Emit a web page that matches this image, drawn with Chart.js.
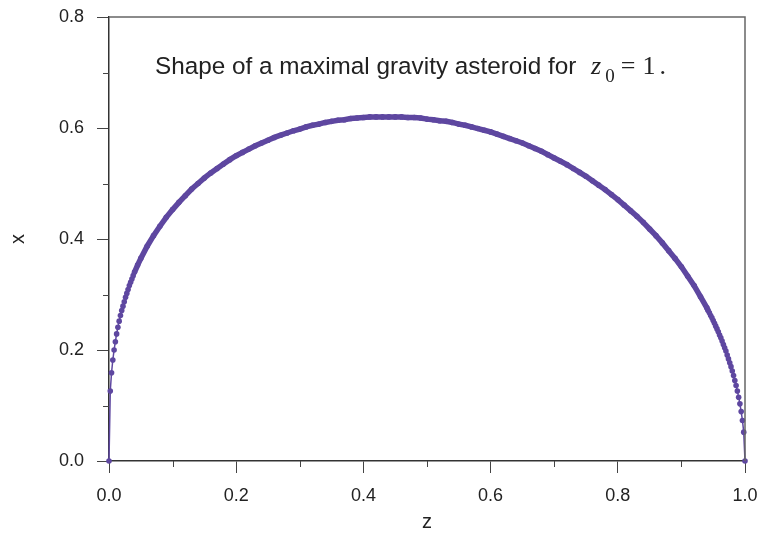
<!DOCTYPE html>
<html lang="en">
<head>
    <meta charset="UTF-8">
    <title>Shape of a maximal gravity asteroid</title>
    <script src="https://cdn.jsdelivr.net/npm/chart.js@4/dist/chart.umd.min.js"></script>
    <style>
        body { margin: 0; background: #fff; }
        #wrap { position: relative; width: 758px; height: 534px; }
        #note {
            position: absolute; left: 155px; top: 54px;
            font-family: 'Liberation Sans', Arial, sans-serif; font-size: 24.3px; line-height: 24px;
            color: #222; white-space: nowrap;
        }
        #note .m { font-family: 'Liberation Serif', 'Times New Roman', serif; font-size: 26px; }
        #note i { margin-left: 8px; }
        #note sub { font-size: 19px; vertical-align: -8px; margin-left: 4px; margin-right: 6px; }
        #note .eq { margin-right: 7px; }
        #note .dot { margin-left: 4px; }
    </style>
</head>
<body>
<div id="wrap">
    <canvas id="chart" width="758" height="534"></canvas>
    <div id="note">Shape of a maximal gravity asteroid for <span class="m"><i>z</i><sub>0</sub><span class="eq">=</span>1<span class="dot">.</span></span></div>
</div>
<script>
// z values (horizontal)
const zValues = [
    0, 0.002, 0.004, 0.006, 0.008, 0.010, 0.012, 0.014, 0.016, 0.018,
    0.020, 0.022, 0.024, 0.026, 0.028, 0.030, 0.032, 0.034, 0.036, 0.038,
    0.040, 0.045, 0.050,
    0.06, 0.07, 0.08, 0.09, 0.10, 0.11, 0.12, 0.13, 0.14, 0.15,
    0.16, 0.17, 0.18, 0.19, 0.20, 0.21, 0.22, 0.23, 0.24, 0.25,
    0.26, 0.27, 0.28, 0.29, 0.30, 0.31, 0.32, 0.33, 0.34, 0.35,
    0.36, 0.37, 0.38, 0.39, 0.40, 0.41, 0.42, 0.43, 0.44, 0.45,
    0.46, 0.47, 0.48, 0.49, 0.50, 0.51, 0.52, 0.53, 0.54, 0.55,
    0.56, 0.57, 0.58, 0.59, 0.60, 0.61, 0.62, 0.63, 0.64, 0.65,
    0.66, 0.67, 0.68, 0.69, 0.70, 0.71, 0.72, 0.73, 0.74, 0.75,
    0.76, 0.77, 0.78, 0.79, 0.80, 0.81, 0.82, 0.83, 0.84, 0.85,
    0.86, 0.87, 0.88, 0.89, 0.90, 0.91, 0.92, 0.93, 0.94,
    0.942, 0.944, 0.946, 0.948, 0.950, 0.952, 0.954, 0.956, 0.958, 0.960,
    0.962, 0.964, 0.966, 0.968, 0.970, 0.972, 0.974, 0.976, 0.978, 0.980,
    0.982, 0.984, 0.986, 0.988, 0.990, 0.992, 0.994, 0.996, 0.998, 1.000
];

// x values (vertical), one per z value
const xValues = [
    0, 0.126, 0.159, 0.182, 0.200, 0.215, 0.229, 0.241, 0.252, 0.262,
    0.271, 0.279, 0.287, 0.295, 0.302, 0.309, 0.316, 0.322, 0.328, 0.334,
    0.340, 0.353, 0.365,
    0.387, 0.406, 0.423, 0.439, 0.453, 0.466, 0.478, 0.490, 0.500, 0.510,
    0.519, 0.527, 0.535, 0.543, 0.550, 0.556, 0.562, 0.568, 0.573, 0.578,
    0.583, 0.587, 0.591, 0.595, 0.598, 0.602, 0.605, 0.607, 0.610, 0.612,
    0.614, 0.615, 0.617, 0.618, 0.619, 0.620, 0.620, 0.620, 0.620, 0.620,
    0.620, 0.619, 0.619, 0.618, 0.616, 0.615, 0.613, 0.612, 0.610, 0.607,
    0.605, 0.602, 0.599, 0.596, 0.593, 0.589, 0.585, 0.581, 0.577, 0.573,
    0.568, 0.563, 0.558, 0.552, 0.546, 0.540, 0.534, 0.527, 0.520, 0.513,
    0.505, 0.497, 0.489, 0.480, 0.471, 0.461, 0.451, 0.441, 0.430, 0.418,
    0.406, 0.393, 0.379, 0.365, 0.350, 0.333, 0.316, 0.296, 0.276,
    0.271, 0.267, 0.262, 0.258, 0.253, 0.248, 0.243, 0.238, 0.233, 0.227,
    0.222, 0.216, 0.210, 0.204, 0.198, 0.191, 0.184, 0.177, 0.170, 0.162,
    0.154, 0.145, 0.136, 0.126, 0.115, 0.103, 0.089, 0.073, 0.052, 0
];

const xTicks = [0, 0.2, 0.4, 0.6, 0.8, 1.0];
const yTicks = [0, 0.2, 0.4, 0.6, 0.8];
const xMinorTicks = [0.1, 0.3, 0.5, 0.7, 0.9];
const yMinorTicks = [0.1, 0.3, 0.5, 0.7];

const purple = '#5e47a0';
const tickFont = { family: "'Liberation Sans', Arial, sans-serif", size: 18 };

const points = zValues.map((z, i) => ({ x: z, y: xValues[i] }));

// top/right frame and the short minor ticks
const framePlugin = {
    id: 'frame',
    afterDraw(chart) {
        const { ctx, chartArea: a, scales } = chart;
        ctx.save();
        ctx.strokeStyle = '#666';
        ctx.lineWidth = 1.5;
        ctx.beginPath();
        ctx.moveTo(a.left, a.top);
        ctx.lineTo(a.right, a.top);
        ctx.lineTo(a.right, a.bottom);
        ctx.stroke();

        ctx.strokeStyle = '#444';
        ctx.lineWidth = 1;
        ctx.beginPath();
        xMinorTicks.forEach(v => {
            const px = Math.round(scales.x.getPixelForValue(v)) + 0.5;
            ctx.moveTo(px, a.bottom);
            ctx.lineTo(px, a.bottom + 6);
        });
        yMinorTicks.forEach(v => {
            const py = Math.round(scales.y.getPixelForValue(v)) + 0.5;
            ctx.moveTo(a.left, py);
            ctx.lineTo(a.left - 6, py);
        });
        ctx.stroke();
        ctx.restore();
    }
};

new Chart(document.getElementById('chart'), {
    type: 'scatter',
    data: {
        datasets: [{
            data: points,
            showLine: true,
            borderColor: purple,
            backgroundColor: purple,
            borderWidth: 1.5,
            pointRadius: 2.8,
            pointBorderWidth: 0,
            clip: false,
            segment: {
                borderWidth: ctx => (ctx.p0.parsed.x >= 0.04 && ctx.p1.parsed.x <= 0.942) ? 5.5 : 1.5
            }
        }]
    },
    options: {
        responsive: false,
        animation: false,
        layout: { padding: { top: 17, right: 13, left: 0, bottom: 0 } },
        plugins: { legend: { display: false }, tooltip: { enabled: false } },
        scales: {
            x: {
                type: 'linear',
                min: 0, max: 1,
                afterBuildTicks: s => { s.ticks = xTicks.map(v => ({ value: v })); },
                afterFit: s => { s.height = 73; s.paddingLeft = 0; s.paddingRight = 0; },
                border: { color: '#333', width: 1.5 },
                grid: { drawOnChartArea: false, tickLength: 12, color: '#444' },
                ticks: { font: tickFont, color: '#222', padding: 12, maxRotation: 0,
                         callback: v => v.toFixed(1) },
                title: { display: true, text: 'z', color: '#222',
                         font: { family: tickFont.family, size: 20 }, padding: { top: 0, bottom: 0 } }
            },
            y: {
                type: 'linear',
                min: 0, max: 0.8,
                afterBuildTicks: s => { s.ticks = yTicks.map(v => ({ value: v })); },
                afterFit: s => { s.width = 109; s.paddingTop = 0; s.paddingBottom = 0; },
                border: { color: '#333', width: 1.5 },
                grid: { drawOnChartArea: false, tickLength: 12, color: '#444' },
                ticks: { font: tickFont, color: '#222', padding: 13,
                         callback: v => v.toFixed(1) },
                title: { display: true, text: 'x', color: '#222',
                         font: { family: tickFont.family, size: 20 }, padding: { top: 6, bottom: 0 } }
            }
        }
    },
    plugins: [framePlugin]
});
</script>
</body>
</html>
